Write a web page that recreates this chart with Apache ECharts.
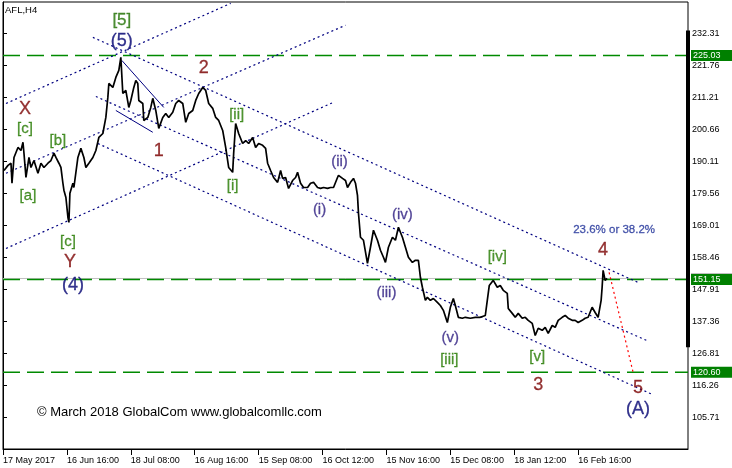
<!DOCTYPE html>
<html><head><meta charset="utf-8">
<script src="https://cdn.jsdelivr.net/npm/echarts@6/dist/echarts.min.js"></script>
<style>html,body{margin:0;padding:0;background:#fff}#c{width:732px;height:468px}</style>
</head><body><div id="c"></div>
<script>
// ---- data (H4 bars, index since 17 May 2017) ----
const barIndex = [1,5,8,9,11,15,18,20,21,23,26,28,31,35,38,41,45,48,51,53,56,58,60,61,63,65,66,67,70,71,75,78,81,83,86,90,93,96,100,103,105,106,110,113,116,118,120,123,126,128,131,133,135,136,140,141,145,148,150,153,155,156,160,163,166,170,173,176,180,183,186,190,193,196,200,203,206,210,213,216,220,223,226,230,231,233,236,240,243,246,250,253,256,260,263,265,268,271,275,278,280,283,286,290,293,295,298,301,305,308,311,315,318,321,325,328,331,335,336,340,343,345,348,351,353,355,356,358,361,365,368,371,375,378,381,383,386,390,393,396,400,403,406,410,413,416,418,420,423,425,428,431,435,438,441,445,448,451,453,456,460,463,468,473,478,483,485,487,491,495,498,501,505,506,510,513,516,520,523,526,530,533,536,540,543,546,550,553,556,560,563,566,570,573,576,580,583,586,590,593,596,599,600,601,603,605];
const closePrice = [187.1,188.8,189.5,182.9,191.4,194.7,193.7,196.4,192.8,184.8,191.4,188.1,190.4,186.2,189.5,188.1,189.5,190.4,192.8,191.4,189.5,188.1,182.9,180.6,178.2,171.7,170.0,179.6,182.9,181.5,191.4,194.4,191.4,188.1,189.5,191.4,193.7,198.0,199.3,204.6,211.2,215.8,214.5,217.8,220.1,224.4,212.5,213.5,207.9,210.2,214.5,216.8,215.8,210.2,209.2,203.6,204.6,207.9,210.9,206.9,203.0,201.0,204.6,205.9,204.6,206.3,209.2,210.2,209.2,203.0,205.9,206.9,210.2,212.5,214.5,213.5,209.2,207.6,204.6,203.6,200.3,194.7,188.1,186.5,192.8,202.6,199.3,196.0,197.0,196.0,198.0,194.7,196.0,195.4,194.4,189.5,187.1,184.8,183.2,187.1,184.5,184.8,181.2,183.8,184.8,186.5,182.9,181.5,181.5,182.9,183.2,181.5,181.2,181.5,181.2,181.5,181.5,184.8,185.5,184.5,183.8,181.5,183.2,184.5,182.9,178.9,173.0,165.1,164.1,156.5,161.8,167.4,164.1,160.8,158.5,156.8,161.8,165.1,164.1,168.4,165.1,161.8,158.5,156.8,157.5,157.5,151.9,148.6,144.3,145.3,144.3,144.9,143.6,142.6,141.0,137.0,142.0,144.9,142.6,138.7,138.4,138.7,138.4,138.7,138.7,139.3,144.3,149.2,150.9,148.6,149.2,147.6,146.6,141.6,140.0,138.7,140.0,138.4,138.7,137.7,136.7,132.7,135.1,134.4,135.4,133.4,136.0,135.4,137.7,138.7,139.3,138.4,137.7,137.7,137.0,137.7,138.4,138.7,142.0,140.3,138.7,144.3,148.6,154.2,150.9,151.5];

const xTickBars = [0,64,128,192,256,320,384,448,512,576];
const xTickLabels = ['17 May 2017','16 Jun 16:00','18 Jul 08:00','16 Aug 16:00','15 Sep 08:00','16 Oct 12:00','15 Nov 16:00','15 Dec 08:00','18 Jan 12:00','16 Feb 16:00'];
const yTickValues = [232.31,221.76,211.21,200.66,190.11,179.56,169.01,158.46,147.91,137.36,126.81,116.26,105.71];
const levelValues = [225.03,151.15,120.60];
const bidPrice = 151.5;

// channel lines [start, end] in [bar, price]
const dottedLines = [
  [[3,209.2],[228,242.2]],
  [[3,186.2],[343,235.0]],
  [[3,161.4],[331,209.6]],
  [[90,231.0],[638,149.9]],
  [[93,211.5],[645,131.0]],
  [[95,196.0],[650,113.3]]
];
const solidLines = [
  [[119,223.4],[161,207.9]],
  [[113,206.9],[150,199.7]]
];
const projectionLine = [[607,153.5],[631,120.6]];
const scaleBar = [[686,233.3],[686,128.8]];

// wave annotations
const waveText = ['[5]','(5)','2','X','[c]','[b]','[ii]','1','[a]','[i]','[c]','Y','(4)','(ii)','(i)','(iv)','(iii)','(v)','[iii]','[iv]','[v]','3','23.6% or 38.2%','4','5','(A)'];
const waveBar  = [119,119,201,22,22,55,234,156,25,230,65,67,70,337,317,400,384,448,447,495,535,536,612,601,636,636];
const wavePrice= [236.6,229.7,220.8,207.3,200.7,197.0,205.3,193.4,178.6,181.9,163.7,156.8,149.2,189.8,174.0,172.6,146.9,131.8,124.8,158.5,125.5,116.3,167.4,160.8,115.3,108.3];
const waveKind = ['g5','navy','red','red','green','green','green','red','green','green','green','red','navy','purple','purple','purple','purple','purple','green','green','green','red','fib','red','red','navy'];

// ---- styles ----
const FONT = 'Liberation Sans, Arial, sans-serif';
const kindStyle = {
  g5:     {color:'#1f7000', fontSize:17},
  green:  {color:'#267a00', fontSize:15},
  red:    {color:'#7a0000', fontSize:18},
  navy:   {color:'#000070', fontSize:18},
  purple: {color:'#2a1a80', fontSize:15},
  fib:    {color:'#22339a', fontSize:11.5}
};
const X_MIN = 0, X_MAX = 686;

const chart = echarts.init(document.getElementById('c'), null, {renderer:'canvas'});
const priceData = barIndex.map((b,i)=>[b, closePrice[i]]);

const series = [];
// bid line (gray)
series.push({
  type:'line', data:[[X_MIN,bidPrice],[X_MAX,bidPrice]], symbol:'none', z:2, silent:true,
  lineStyle:{color:'#c0c0c0', width:1, type:'solid'},
  endLabel:{show:true, distance:3, formatter:()=>bidPrice.toFixed(2), color:'#c0c0c0',
    backgroundColor:'#c0c0c0', fontSize:9, fontFamily:FONT, padding:[1,12,1,2]}
});
// green levels
levelValues.forEach(v=>series.push({
  type:'line', data:[[X_MIN,v],[X_MAX,v]], symbol:'none', z:3, silent:true,
  lineStyle:{color:'#008a00', width:1.5, type:[17,7]},
  endLabel:{show:true, distance:3, formatter:()=>v.toFixed(2), color:'#ffffff',
    backgroundColor:'#008000', fontSize:9, fontFamily:FONT, padding:[1,12,1,2]}
}));
series.push({
  type:'line', data: priceData, symbol:'none', z:6,
  lineStyle:{color:'#000', width:1.7}, silent:true
});
dottedLines.forEach(l=>series.push({
  type:'line', data:l, symbol:'none', z:4, silent:true,
  lineStyle:{color:'#000080', width:1.2, type:[2,3]}
}));
solidLines.forEach(l=>series.push({
  type:'line', data:l, symbol:'none', z:4, silent:true,
  lineStyle:{color:'#000080', width:1}
}));
series.push({
  type:'line', data:projectionLine, symbol:'none', z:4, silent:true,
  lineStyle:{color:'#ff0000', width:1.2, type:[2,3]}
});
// scale bar at right axis
series.push({
  type:'line', data:scaleBar, symbol:'none', z:7, silent:true, clip:false,
  lineStyle:{color:'#000', width:4, type:'solid'}
});
// annotations
series.push({
  type:'scatter', z:8, silent:true, symbolSize:1, itemStyle:{color:'rgba(0,0,0,0)'},
  data: waveText.map((t,i)=>{
    const s = kindStyle[waveKind[i]];
    return {
      value:[waveBar[i], wavePrice[i]],
      label:{show:true, position:'inside', formatter:t, fontFamily:FONT,
        color:s.color, fontSize:s.fontSize, textBorderColor:s.color, textBorderWidth:0.3}
    };
  })
});

chart.setOption({
  animation:false,
  backgroundColor:'#fff',
  title:[
    {text:'AFL,H4', left:5, top:5, padding:0, textStyle:{fontSize:9.5, fontWeight:'normal', color:'#000', fontFamily:FONT}},
    {text:'\u00A9 March 2018 GlobalCom www.globalcomllc.com', left:37, top:406, padding:0,
      textStyle:{fontSize:13, fontWeight:'normal', color:'#000', fontFamily:FONT}}
  ],
  grid:{left:2, right:44, top:2, bottom:19, show:true, borderColor:'#000', borderWidth:1, backgroundColor:'#fff'},
  xAxis:{
    type:'value', min:X_MIN, max:X_MAX,
    axisLine:{show:true, lineStyle:{color:'#000', width:1}},
    axisTick:{show:true, length:6, lineStyle:{color:'#000'}, customValues:xTickBars},
    axisLabel:{show:true, customValues:xTickBars, align:'left', margin:7,
      formatter:v=>xTickLabels[xTickBars.indexOf(v)], fontSize:9, color:'#000', fontFamily:FONT},
    splitLine:{show:false}
  },
  yAxis:{
    type:'value', position:'right', min:95.28, max:242.66, scale:true,
    axisLine:{show:true, lineStyle:{color:'#000', width:1}},
    axisTick:{show:true, length:4, lineStyle:{color:'#000'}, customValues:yTickValues},
    axisLabel:{show:true, customValues:yTickValues, margin:4, formatter:v=>v.toFixed(2),
      fontSize:9, color:'#000', fontFamily:FONT},
    splitLine:{show:false}
  },
  series
});
</script></body></html>
